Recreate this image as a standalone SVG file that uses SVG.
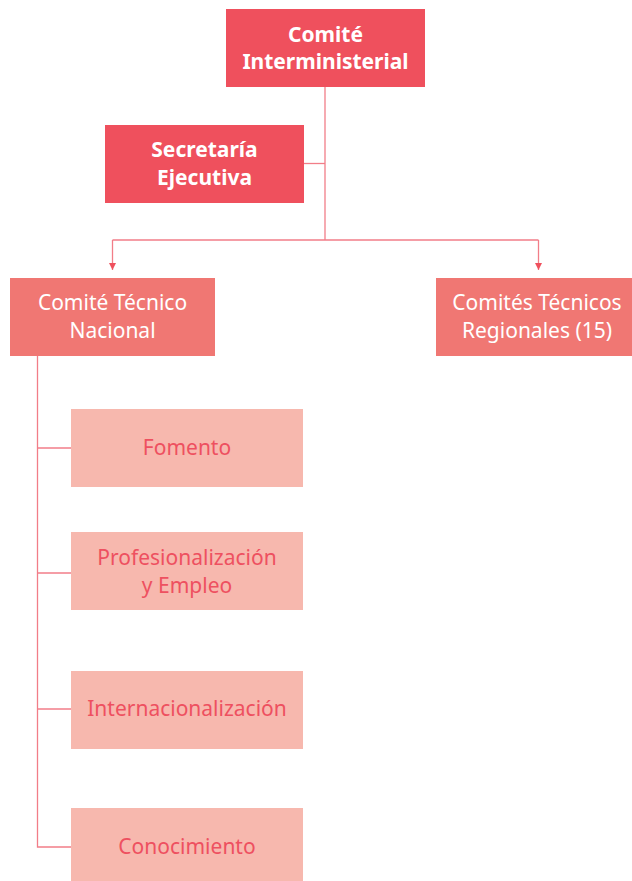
<svg xmlns="http://www.w3.org/2000/svg" width="632" height="881" viewBox="0 0 632 881">
<style>
.dark{fill:#EF505D}
.mid{fill:#F07773}
.light{fill:#F7B8AE}
.tb{font-family:"Noto Sans","Open Sans",sans-serif;font-size:21px;font-weight:bold;fill:#FFFFFF;text-anchor:middle}
.tw{font-family:"Noto Sans","Open Sans",sans-serif;font-size:21px;fill:#FFFFFF;text-anchor:middle}
.tr{font-family:"Noto Sans","Open Sans",sans-serif;font-size:21px;fill:#EE5060;text-anchor:middle}
.ln{fill:none;stroke:#F27D88;stroke-width:1.3}
</style>
<defs>
<marker id="ah" viewBox="0 0 10 10" refX="10" refY="5" markerWidth="7" markerHeight="7" markerUnits="userSpaceOnUse" orient="auto">
<path d="M0,0 L10,5 L0,10 Z" fill="#EF505D"/>
</marker>
</defs>
<g id="connectors">
<path class="ln" d="M325,87 V240"/>
<path class="ln" d="M304,163.5 H325"/>
<path class="ln" d="M112.5,240 H538.5" />
<path class="ln" d="M112.5,240 V270" marker-end="url(#ah)"/>
<path class="ln" d="M538.5,240 V270" marker-end="url(#ah)"/>
<path class="ln" d="M37.5,356 V847 H71"/>
<path class="ln" d="M37.5,448 H71"/>
<path class="ln" d="M37.5,573 H71"/>
<path class="ln" d="M37.5,709 H71"/>
</g>
<g id="comite-interministerial">
<rect class="dark" x="226" y="9" width="199" height="78"/>
<text class="tb" x="325.5" y="42">Comité</text>
<text class="tb" x="325.5" y="69">Interministerial</text>
</g>
<g id="secretaria-ejecutiva">
<rect class="dark" x="105" y="125" width="199" height="78"/>
<text class="tb" x="204.5" y="157">Secretaría</text>
<text class="tb" x="204.5" y="185">Ejecutiva</text>
</g>
<g id="comite-tecnico-nacional">
<rect class="mid" x="10" y="278" width="205" height="78"/>
<text class="tw" x="112.5" y="310">Comité Técnico</text>
<text class="tw" x="112.5" y="338">Nacional</text>
</g>
<g id="comites-tecnicos-regionales">
<rect class="mid" x="436" y="278" width="196" height="78"/>
<text class="tw" x="537" y="310">Comités Técnicos</text>
<text class="tw" x="537" y="338">Regionales (15)</text>
</g>
<g id="fomento">
<rect class="light" x="71" y="409" width="232" height="78"/>
<text class="tr" x="187" y="455">Fomento</text>
</g>
<g id="profesionalizacion">
<rect class="light" x="71" y="532" width="232" height="78"/>
<text class="tr" x="187" y="565">Profesionalización</text>
<text class="tr" x="187" y="593">y Empleo</text>
</g>
<g id="internacionalizacion">
<rect class="light" x="71" y="671" width="232" height="78"/>
<text class="tr" x="187" y="716">Internacionalización</text>
</g>
<g id="conocimiento">
<rect class="light" x="71" y="808" width="232" height="73"/>
<text class="tr" x="187" y="854">Conocimiento</text>
</g>
</svg>
